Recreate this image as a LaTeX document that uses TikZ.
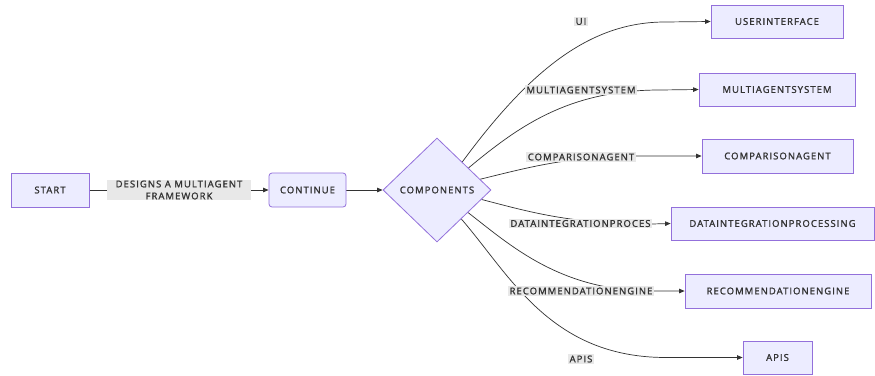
\documentclass[tikz,border=0pt]{standalone}
\usepackage{fontspec}
\setmainfont{Open Sans}[LetterSpace=11,FakeBold=1.6]
\usetikzlibrary{shapes.geometric,arrows.meta,backgrounds}
\definecolor{nodefill}{HTML}{ECECFF}
\definecolor{nodedraw}{HTML}{9370DB}
\definecolor{txt}{HTML}{333333}
\definecolor{lblbg}{HTML}{E8E8E8}
\definecolor{edgecol}{HTML}{333333}
\begin{document}
\begin{tikzpicture}[x=1pt,y=-1pt,
  every node/.style={font=\fontsize{9.5}{12}\selectfont, text=txt},
  box/.style={draw=nodedraw, fill=nodefill, line width=0.8pt, inner sep=0pt, minimum height=33pt},
  lbl/.style={fill=lblbg, inner sep=1.5pt},
  edge/.style={draw=edgecol, line width=0.7pt},
  arr/.style={edge, -{Triangle[length=5.5pt,width=4.5pt]}}]
\useasboundingbox (0,0) rectangle (875,375);

% main nodes
\node[box, minimum width=78pt, minimum height=34pt] (start) at (50,190) {START};
\node[box, rounded corners=3pt, minimum width=77pt, minimum height=34pt] (cont) at (307.5,190) {CONTINUE};
\node[box, diamond, aspect=1.04, minimum width=108pt, minimum height=104pt] (comp) at (437,190) {COMPONENTS};

% targets
\node[box, minimum width=132pt] (ui) at (777,21.5) {USERINTERFACE};
\node[box, minimum width=156pt] (mas) at (777,89.5) {MULTIAGENTSYSTEM};
\node[box, minimum width=151pt, minimum height=34pt] (ca) at (777.5,156) {COMPARISONAGENT};
\node[box, minimum width=203pt] (dip) at (772.5,223.5) {DATAINTEGRATIONPROCESSING};
\node[box, minimum width=186pt, minimum height=34pt] (re) at (778,291) {RECOMMENDATIONENGINE};
\node[box, minimum width=69pt] (apis) at (777.5,357.5) {APIS};

% edge labels
\node[lbl, align=center, minimum width=144pt, inner sep=1pt] (l0) at (179,190) {DESIGNS A MULTIAGENT\\FRAMEWORK};
\node[lbl] (lui) at (581,21.5) {UI};
\node[lbl] (lmas) at (581,90) {MULTIAGENTSYSTEM};
\node[lbl] (lca) at (581,157) {COMPARISONAGENT};
\node[lbl] (ldip) at (580.5,223.5) {DATAINTEGRATIONPROCES};
\node[lbl] (lre) at (581,291) {RECOMMENDATIONENGINE};
\node[lbl] (lapis) at (581,359) {APIS};

\coordinate (cui) at (665,22);
\coordinate (cmas) at (660,90);
\coordinate (cca) at (640,156);
\coordinate (cdip) at (652,224);
\coordinate (cre) at (652,291);
\coordinate (capis) at (665,357.5);

\begin{scope}[on background layer]
  \fill[white] (0,0) rectangle (875,375);
  \draw[arr] (start) -- (cont);
  \draw[arr] (cont) -- (comp);
  \draw[arr] (comp.48) .. controls (530,70) and (590,22) .. (cui) -- (ui.west);
  \draw[arr] (comp.35) .. controls (520,125) and (570,90) .. (cmas) -- (mas.west);
  \draw[arr] (comp.14) .. controls (530,167) and (570,156) .. (cca) -- (ca.west);
  \draw[arr] (comp.-12) .. controls (530,212) and (570,224) .. (cdip) -- (dip.west);
  \draw[arr] (comp.-36) .. controls (510,245) and (560,291) .. (cre) -- (re.west);
  \draw[arr] (comp.-50) .. controls (510,275) and (550,357) .. (capis) -- (apis.west);
\end{scope}
\end{tikzpicture}
\end{document}
